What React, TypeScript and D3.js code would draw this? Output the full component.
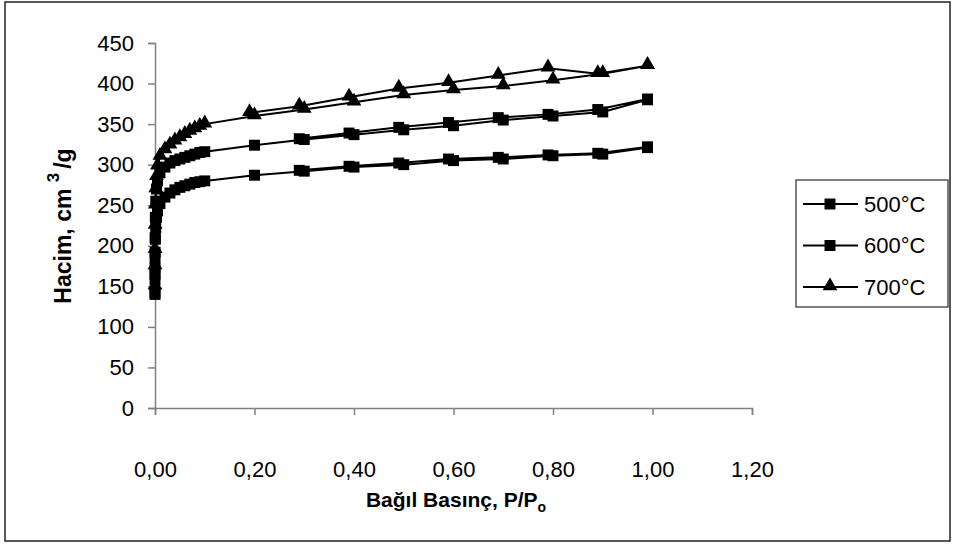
import React, { useEffect, useRef } from 'react';
import * as d3 from 'd3';

// relative pressure, adsorption branch
const presAds = [0.00001, 0.00005, 0.0001, 0.0003, 0.0007, 0.0015, 0.003, 0.005, 0.01, 0.02, 0.03, 0.04, 0.05, 0.06, 0.07, 0.08, 0.09, 0.1, 0.2, 0.3, 0.4, 0.5, 0.6, 0.7, 0.8, 0.9, 0.99];
// relative pressure, desorption branch
const presDes = [0.99, 0.89, 0.79, 0.69, 0.59, 0.49, 0.39, 0.29];
const presDes700 = [0.99, 0.89, 0.79, 0.69, 0.59, 0.49, 0.39, 0.29, 0.19];

const vol500Ads = [140, 158, 172, 192, 208, 222, 235, 243, 252, 260, 265, 269, 272, 274, 276, 278, 279, 280, 287, 292, 297, 300, 305, 307, 311, 313, 321];
const vol500Des = [322, 314, 312, 309, 307, 302, 298, 293];
const vol600Ads = [142, 165, 185, 210, 235, 255, 270, 280, 290, 297, 302, 305, 307, 309, 311, 313, 315, 316, 324, 331, 337, 343, 348, 355, 360, 365, 380];
const vol600Des = [381, 368, 362, 358, 352, 346, 339, 332];
const vol700Ads = [150, 175, 195, 225, 250, 270, 285, 298, 310, 318, 324, 329, 333, 337, 341, 344, 347, 350, 360, 368, 377, 386, 392, 397, 404, 412, 422];
const vol700Des = [422, 412, 419, 410, 401, 394, 383, 372, 364];

const seriesNames = ['500°C', '600°C', '700°C'];
const xTicks = [0, 0.2, 0.4, 0.6, 0.8, 1.0, 1.2];
const yTicks = [0, 50, 100, 150, 200, 250, 300, 350, 400, 450];

const W = 956;
const H = 547;
const FONT = 'Liberation Sans, Arial, Helvetica, sans-serif';

const App = () => {
    const ref = useRef<SVGSVGElement>(null);

    useEffect(() => {
        const svg = d3.select(ref.current);
        svg.selectAll('*').remove();

        const x = d3.scaleLinear().domain([0, 1.2]).range([155, 752]);
        const y = d3.scaleLinear().domain([0, 450]).range([408, 43]);

        const join = (px: number[], vy: number[]) => px.map((p, i) => [p, vy[i]] as [number, number]);
        const series = [
            { name: seriesNames[0], shape: 'square', data: join(presAds, vol500Ads).concat(join(presDes, vol500Des)) },
            { name: seriesNames[1], shape: 'square', data: join(presAds, vol600Ads).concat(join(presDes, vol600Des)) },
            { name: seriesNames[2], shape: 'triangle', data: join(presAds, vol700Ads).concat(join(presDes700, vol700Des)) }
        ];

        // outer frame
        svg.append('rect')
            .attr('x', 5).attr('y', 2).attr('width', 945).attr('height', 539)
            .attr('fill', 'white').attr('stroke', '#222').attr('stroke-width', 1.5);

        // axes
        const xAxis = d3.axisBottom(x).tickValues(xTicks).tickSize(7).tickPadding(46)
            .tickFormat((d) => d3.format('.2f')(d as number).replace('.', ','));
        const yAxis = d3.axisLeft(y).tickValues(yTicks).tickSize(7).tickPadding(14);

        const gx = svg.append('g').attr('transform', `translate(0,${y(0)})`).call(xAxis);
        const gy = svg.append('g').attr('transform', `translate(${x(0)},0)`).call(yAxis);
        [gx, gy].forEach((g) => {
            g.select('.domain').attr('stroke', '#808080').attr('stroke-width', 1.5);
            g.selectAll('.tick line').attr('stroke', '#808080').attr('stroke-width', 1.5);
            g.selectAll('.tick text').attr('fill', '#000').style('font-family', FONT).style('font-size', '22px');
        });

        const line = d3.line<[number, number]>().x((d) => x(d[0])).y((d) => y(d[1]));
        const square = d3.symbol().type(d3.symbolSquare).size(120);
        const triangle = d3.symbol().type(d3.symbolTriangle).size(95);

        series.forEach((s) => {
            const g = svg.append('g');
            g.append('path').attr('d', line(s.data)).attr('fill', 'none').attr('stroke', '#000').attr('stroke-width', 2);
            g.selectAll('path.pt')
                .data(s.data)
                .enter()
                .append('path')
                .attr('class', 'pt')
                .attr('d', s.shape === 'square' ? square() : triangle())
                .attr('transform', (d) => `translate(${x(d[0])},${y(d[1]) + (s.shape === 'square' ? 0 : -1)})`)
                .attr('fill', '#000');
        });

        // axis titles
        svg.append('text')
            .attr('x', 456).attr('y', 507)
            .attr('text-anchor', 'middle')
            .style('font-family', FONT).style('font-size', '21px').style('font-weight', 'bold')
            .call((t) => {
                t.append('tspan').text('Bağıl Basınç, P/P');
                t.append('tspan').attr('dy', 5).style('font-size', '14px').text('o');
            });

        svg.append('text')
            .attr('transform', 'translate(71,226) rotate(-90)')
            .attr('text-anchor', 'middle')
            .style('font-family', FONT).style('font-size', '23px').style('font-weight', 'bold')
            .call((t) => {
                t.append('tspan').text('Hacim, cm ');
                t.append('tspan').attr('dy', -12).style('font-size', '17px').text('3');
                t.append('tspan').attr('dy', 12).attr('dx', 4).text('/g');
            });

        // legend
        const legend = svg.append('g');
        legend.append('rect')
            .attr('x', 796).attr('y', 180).attr('width', 152).attr('height', 127)
            .attr('fill', 'white').attr('stroke', '#555').attr('stroke-width', 1.5);
        const rowY = d3.scalePoint<string>().domain(seriesNames).range([204, 287]);
        series.forEach((s) => {
            const cy = rowY(s.name) as number;
            legend.append('line').attr('x1', 803).attr('x2', 858).attr('y1', cy).attr('y2', cy)
                .attr('stroke', '#000').attr('stroke-width', 2);
            legend.append('path')
                .attr('d', s.shape === 'square' ? square() : triangle())
                .attr('transform', `translate(830,${cy + (s.shape === 'square' ? 0 : -1)})`)
                .attr('fill', '#000');
            legend.append('text')
                .attr('x', 864).attr('y', cy).attr('dy', '0.35em')
                .style('font-family', FONT).style('font-size', '22px')
                .text(s.name);
        });
    }, []);

    return (
        <svg ref={ref} width={W} height={H} style={{ position: 'absolute', left: 0, top: 0 }} />
    );
};

export default App;
